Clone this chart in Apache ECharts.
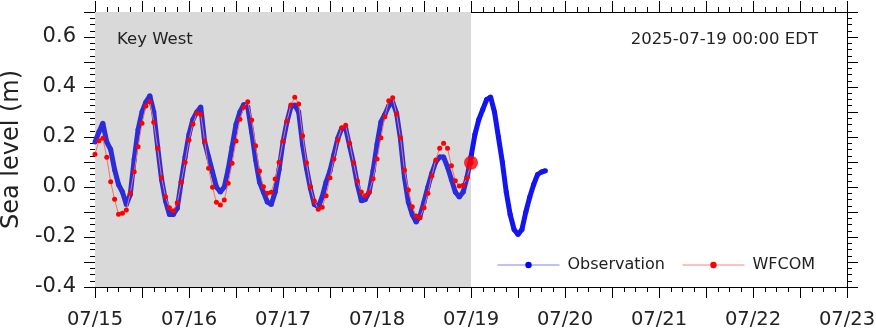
<!DOCTYPE html>
<html>
<head>
<meta charset="utf-8">
<script src="https://cdn.jsdelivr.net/npm/echarts@6/dist/echarts.min.js"></script>
<style>
  html, body { margin: 0; padding: 0; background: #fff; }
  #chart { width: 876px; height: 334px; }
</style>
</head>
<body>
<div id="chart"></div>
<script>
// Day labels along the time axis (hours counted from 07/15 00:00 EDT)
const dayLabels = ['07/15', '07/16', '07/17', '07/18', '07/19', '07/20', '07/21', '07/22', '07/23'];

// Observed sea level (m), hourly from 07/15 00:00
const observation = [
  0.18, 0.22, 0.255, 0.18, 0.15, 0.07, 0.01, -0.02, -0.07, -0.03,
  0.11, 0.23, 0.30, 0.34, 0.365, 0.30, 0.16, 0.03, -0.055, -0.11,
  -0.11, -0.085, 0.02, 0.12, 0.21, 0.27, 0.30, 0.32, 0.18, 0.12,
  0.06, 0.00, -0.02, 0.00, 0.07, 0.16, 0.25, 0.30, 0.33, 0.32,
  0.22, 0.11, 0.02, -0.02, -0.06, -0.07, -0.02, 0.07, 0.18, 0.26,
  0.32, 0.328, 0.30, 0.17, 0.075, -0.005, -0.07, -0.08, -0.04, 0.02,
  0.065, 0.13, 0.195, 0.235, 0.235, 0.165, 0.095, 0.01, -0.055, -0.05,
  -0.02, 0.065, 0.17, 0.26, 0.29, 0.325, 0.34, 0.295, 0.19, 0.04,
  -0.06, -0.11, -0.14, -0.115, -0.06, 0.00, 0.055, 0.10, 0.12, 0.12,
  0.08, 0.03, -0.02, -0.04, -0.02, 0.04, 0.12, 0.21, 0.27, 0.31,
  0.35, 0.36, 0.30, 0.20, 0.10, -0.02, -0.11, -0.17, -0.19, -0.17,
  -0.10, -0.04, 0.01, 0.05, 0.06, 0.065
];

// WFCOM model sea level (m), hourly from 07/15 00:00 to 07/19 00:00
const wfcom = [
  0.131, 0.185, 0.195, 0.119, 0.021, -0.049, -0.109, -0.105, -0.092, -0.025,
  0.061, 0.161, 0.255, 0.324, 0.341, 0.259, 0.155, 0.037, -0.039, -0.083,
  -0.095, -0.063, 0.019, 0.099, 0.188, 0.252, 0.295, 0.291, 0.184, 0.075,
  -0.001, -0.061, -0.072, -0.052, 0.015, 0.095, 0.184, 0.271, 0.319, 0.341,
  0.268, 0.165, 0.064, 0.001, -0.025, -0.021, 0.032, 0.099, 0.184, 0.264,
  0.328, 0.359, 0.332, 0.205, 0.097, 0.001, -0.056, -0.089, -0.081, -0.035,
  0.037, 0.112, 0.188, 0.237, 0.247, 0.175, 0.097, 0.024, -0.020, -0.035,
  -0.021, 0.033, 0.112, 0.197, 0.281, 0.345, 0.357, 0.292, 0.197, 0.068,
  -0.012, -0.079, -0.116, -0.123, -0.083, -0.025, 0.045, 0.108, 0.155, 0.175,
  0.155, 0.085, 0.025, 0.004, 0.007, 0.037, 0.097
];

const hindcastEnd = 96; // hours: 07/19 00:00
const FONT = 'DejaVu Sans';
const TXT = '#222';

const obsData = observation.map((v, h) => [h, v]);
const obsPast = obsData.slice(0, hindcastEnd + 1);
const obsRecent = obsData.slice(hindcastEnd);
const wfcomData = wfcom.map((v, h) => [h, v]);
const nowPoint = [[wfcom.length - 1, wfcom[wfcom.length - 1]]];

const chart = echarts.init(document.getElementById('chart'), null, { renderer: 'canvas' });

const tickCommon = {
  axisLine: { show: true, onZero: false, lineStyle: { color: '#000', width: 1 } },
  axisTick: { show: true, inside: false, length: 11, lineStyle: { color: '#000' } },
  minorTick: { show: true, splitNumber: 4, length: 5, lineStyle: { color: '#000' } },
  splitLine: { show: false },
  minorSplitLine: { show: false }
};

const obsStyle = color => ({
  name: 'Observation', type: 'line',
  symbol: 'circle', symbolSize: 5, showAllSymbol: true,
  lineStyle: { color: color, width: 5 },
  itemStyle: { color: color },
  z: 2
});

chart.setOption({
  animation: false,
  backgroundColor: '#fff',
  textStyle: { fontFamily: FONT },
  grid: { left: 95, right: 29, top: 12, bottom: 47, containLabel: false, outerBoundsMode: 'none' },
  xAxis: [
    Object.assign({
      type: 'value', min: 0, max: 192, interval: 12, position: 'bottom',
      axisLabel: {
        margin: 23, fontSize: 19.5, color: TXT, fontFamily: FONT,
        formatter: v => (v % 24 === 0 ? dayLabels[v / 24] : '')
      }
    }, tickCommon),
    Object.assign({
      type: 'value', min: 0, max: 192, interval: 12, position: 'top',
      axisLabel: { show: false }
    }, tickCommon)
  ],
  yAxis: [
    Object.assign({
      type: 'value', min: -0.4, max: 0.7, interval: 0.1, position: 'left',
      name: 'Sea level (m)', nameLocation: 'middle', nameGap: 69,
      nameTextStyle: { fontSize: 24, color: TXT, fontFamily: FONT },
      axisLabel: {
        margin: 19, fontSize: 21, color: TXT, fontFamily: FONT,
        formatter: v => {
          const k = Math.round(v * 10);
          return k % 2 === 0 ? (k / 10).toFixed(1) : '';
        }
      }
    }, tickCommon),
    Object.assign({
      type: 'value', min: -0.4, max: 0.7, interval: 0.1, position: 'right',
      axisLabel: { show: false }
    }, tickCommon)
  ],
  legend: {
    left: 497, top: 257, padding: 0, itemWidth: 62, itemHeight: 8, itemGap: 17,
    textStyle: { fontSize: 16, color: TXT, fontFamily: FONT, padding: [0, 0, 0, 3] },
    data: [
      { name: 'Observation', itemStyle: { color: '#0000ff' }, lineStyle: { color: '#8080ff', width: 1 } },
      { name: 'WFCOM', itemStyle: { color: '#ff0000' }, lineStyle: { color: '#ff8080', width: 1 } }
    ]
  },
  graphic: [
    { type: 'text', left: 117, top: 31, z: 10,
      style: { text: 'Key West', fontSize: 16.5, fill: TXT, fontFamily: FONT } },
    { type: 'text', right: 58, top: 31, z: 10,
      style: { text: '2025-07-19 00:00 EDT', fontSize: 16.5, fill: TXT, fontFamily: FONT } }
  ],
  series: [
    Object.assign(obsStyle('#2c2cd8'), {
      data: obsPast,
      markArea: {
        silent: true,
        itemStyle: { color: '#d9d9d9' },
        data: [[{ xAxis: 0 }, { xAxis: hindcastEnd }]]
      }
    }),
    Object.assign(obsStyle('#1414f0'), { data: obsRecent }),
    {
      name: 'WFCOM', type: 'line', data: wfcomData,
      symbol: 'circle', symbolSize: 5, showAllSymbol: true,
      lineStyle: { color: '#f07070', width: 1 },
      itemStyle: { color: '#ff0000' },
      z: 3
    },
    {
      name: 'now', type: 'scatter', data: nowPoint,
      symbol: 'circle', symbolSize: 14,
      itemStyle: { color: '#ff0000' },
      z: 4
    }
  ]
});
</script>
</body>
</html>
